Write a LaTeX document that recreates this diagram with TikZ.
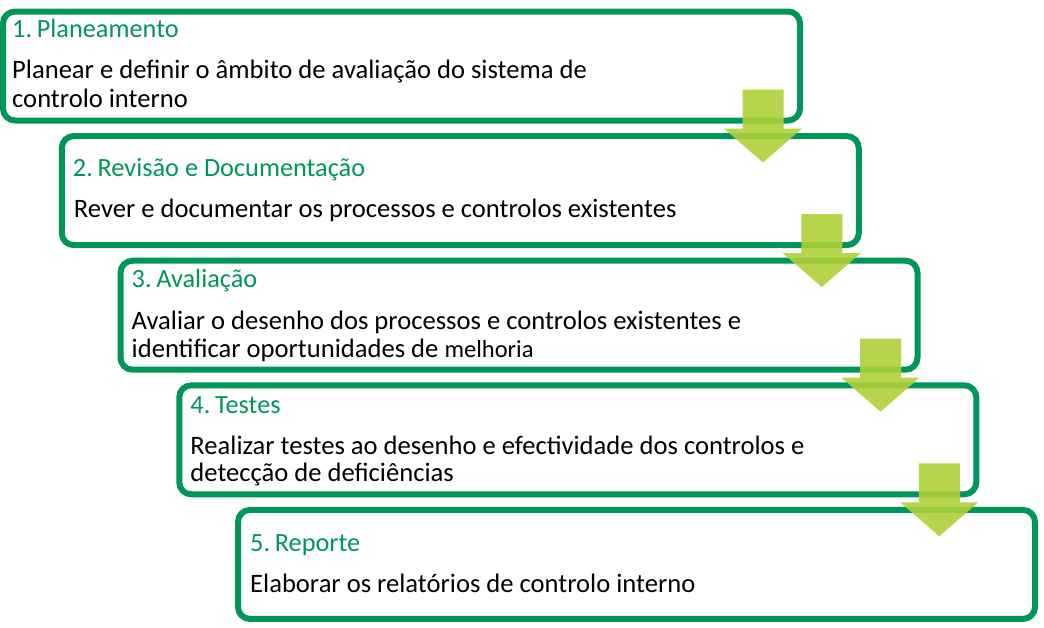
\documentclass[tikz,border=0pt]{standalone}
\usepackage{fontspec}
\setmainfont{Carlito}
\usetikzlibrary{calc}
\definecolor{boxgreen}{RGB}{0,150,90}
\definecolor{arrowlime}{RGB}{174,208,56}
\tikzset{
  stepbox/.style = {draw = boxgreen, line width = 6pt, rounded corners = 12pt,
    minimum width = 797pt, minimum height = 109pt, outer sep = 0pt, inner sep = 0pt},
  steptitle/.style = {anchor = base west, inner sep = 0pt, text = boxgreen,
    font = \fontsize{26.3}{30}\selectfont},
  steptext/.style = {anchor = base west, inner sep = 0pt,
    font = \fontsize{26.6}{30}\selectfont},
  downarrow/.style = {fill = arrowlime, fill opacity = 0.9}
}
\begin{document}
\begin{tikzpicture}
    [x = 1pt, y = -1pt]
    \useasboundingbox (0, 0) rectangle (1044, 627);
    \node[stepbox] (plan) at (401.5, 66) {};
    \node[stepbox] (rev) at (460.25, 190.6) {};
    \node[stepbox] (aval) at (519, 315.2) {};
    \node[stepbox] (test) at (577.75, 439.8) {};
    \node[stepbox] (rep) at (636.5, 564.4) {};
    \node[steptitle] (plan-t) at ($(plan.north west) + (9, 26)$) {1.\hspace{0.18em}Planeamento};
    \node[steptext] (plan-1) at ($(plan.north west) + (9, 66.5)$) {Planear e definir o âmbito de avaliação do sistema de};
    \node[steptext] (plan-2) at ($(plan.north west) + (9, 96)$) {controlo interno};
    \node[steptitle] (rev-t) at ($(rev.north west) + (11, 40.5)$) {2.\hspace{0.18em}Revisão e Documentação};
    \node[steptext] (rev-1) at ($(rev.north west) + (12, 81.5)$) {Rever e documentar os processos e controlos existentes};
    \node[steptitle] (aval-t) at ($(aval.north west) + (11, 27)$) {3.\hspace{0.18em}Avaliação};
    \node[steptext] (aval-1) at ($(aval.north west) + (11, 69)$) {Avaliar o desenho dos processos e controlos existentes e};
    \node[steptext] (aval-2) at ($(aval.north west) + (11, 97)$) {identificar oportunidades de {\fontsize{24.5}{28}\selectfont melhoria}};
    \node[steptitle] (test-t) at ($(test.north west) + (11, 28)$) {4.\hspace{0.18em}Testes};
    \node[steptext] (test-1) at ($(test.north west) + (11, 69)$) {Realizar testes ao desenho e efectividade dos controlos e};
    \node[steptext] (test-2) at ($(test.north west) + (11, 96.5)$) {detecção de deficiências};
    \node[steptitle] (rep-t) at ($(rep.north west) + (12, 42)$) {5.\hspace{0.18em}Reporte};
    \node[steptext] (rep-1) at ($(rep.north west) + (12, 82.5)$) {Elaborar os relatórios de controlo interno};
    % arrows between the steps
    \foreach \s in {plan, rev, aval, test}
      \fill[downarrow] ($(\s.south east) + (-57.5, -31)$) -- ++(41, 0) -- ++(0, 39)
      -- ++(18.5, 0) -- ($(\s.south east) + (-37, 42)$) -- ++(-39, -34)
      -- ++(18.5, 0) -- cycle;
    \end{tikzpicture}
\end{document}
